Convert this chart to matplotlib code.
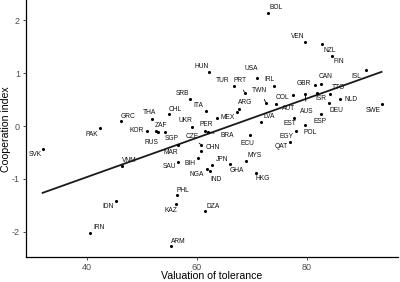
import numpy as np
import matplotlib
matplotlib.use("Agg")
import matplotlib.pyplot as plt

plt.rcParams['font.family'] = ['Liberation Sans', 'DejaVu Sans']
plt.rcParams['axes.unicode_minus'] = False

countries = ["SVK", "PAK", "GRC", "THA", "CHL", "SRB", "ITA", "HUN", "KOR", "UKR",
             "ZAF", "RUS", "SGP", "MEX", "PER", "BRA", "CZE", "CHN", "MAR", "SAU",
             "BIH", "NGA", "IND", "JPN", "GHA", "MYS", "HKG", "ECU", "EGY", "QAT",
             "POL", "ESP", "EST", "LVA", "AUT", "AUS", "ISR", "TTO", "DEU", "NLD",
             "SWE", "ISL", "CAN", "GBR", "FIN", "NZL", "VEN", "BOL", "IRL", "USA",
             "TUR", "PRT", "TWN", "ARG", "", "COL", "VNM", "IDN", "IRN", "PHL",
             "KAZ", "DZA", "ARM"]
tolerance = [31.9, 42.4, 46.1, 51.9, 54.9, 58.7, 61.7, 62.2, 50.9, 59.1,
             52.5, 52.9, 54.2, 63.7, 61.5, 62.0, 60.8, 60.8, 56.6, 56.5,
             60.2, 61.9, 62.4, 62.7, 66.1, 69.0, 70.7, 69.6, 78.1, 76.9,
             79.7, 82.5, 77.7, 71.6, 77.4, 79.7, 81.9, 84.2, 84.1, 86.0,
             93.6, 90.7, 82.6, 81.5, 84.5, 82.7, 79.7, 73.0, 74.1, 70.9,
             66.7, 68.7, 72.6, 67.7, 67.2, 74.4, 46.4, 45.2, 40.6, 56.3,
             56.2, 61.4, 55.2]
cooperation = [-0.43, -0.04, 0.09, 0.13, 0.22, 0.52, 0.29, 1.02, -0.09, -0.02,
               -0.09, -0.12, -0.11, 0.16, -0.09, -0.11, -0.36, -0.47, -0.36, -0.67,
               -0.61, -0.82, -0.84, -0.74, -0.71, -0.66, -0.89, -0.17, -0.09, -0.30,
               0.02, 0.22, 0.16, 0.07, 0.59, 0.60, 0.62, 0.60, 0.44, 0.51,
               0.41, 1.05, 0.79, 0.78, 1.32, 1.55, 1.59, 2.14, 0.76, 0.90,
               0.76, 0.62, 0.43, 0.33, 0.26, 0.42, -0.75, -1.42, -2.02, -1.30,
               -1.48, -1.61, -2.27]

# label offsets in pixels (dx right, dy down), and whether a segment is drawn
label_offsets = {
    "SVK": (-7, 6), "PAK": (-8, 6.3), "GRC": (7.3, -5), "THA": (-2.7, -6.6),
    "CHL": (6.7, -5.3), "SRB": (-7.7, -5.4), "ITA": (-7.7, -5.7), "HUN": (-7.6, -6),
    "KOR": (-10.6, 0), "UKR": (-6.3, -7), "ZAF": (5.7, -5.7), "RUS": (-6.6, 10),
    "SGP": (6.7, 6.6), "MEX": (10.4, 0), "PER": (0.7, -6), "BRA": (19, 4),
    "CZE": (-9, -8.3), "CHN": (11, -3), "MAR": (-7.3, 7.3), "SAU": (-8.4, 5),
    "BIH": (-8.3, 5), "NGA": (-10.6, 5), "IND": (6, 9.3), "JPN": (10.6, -6),
    "GHA": (6.6, 6.7), "MYS": (8.3, -5.7), "HKG": (7.3, 5.7), "ECU": (-2.7, 8.3),
    "EGY": (-10, 6), "QAT": (-8.3, 5), "POL": (5, 7.3), "ESP": (-0.7, 7.4),
    "EST": (-4.3, 5.7), "LVA": (9, -5.6), "AUT": (-3.7, 14), "AUS": (1.7, 16.7),
    "ISR": (3.7, 5.7), "TTO": (8.3, -6.6), "DEU": (7.4, 7.3), "NLD": (11.7, 0),
    "SWE": (-8.4, 5.7), "ISL": (-9, 6), "CAN": (4, -7.6), "GBR": (-11, -1.7),
    "FIN": (7.6, 5.7), "NZL": (8.3, 6), "VEN": (-7.7, -5.7), "BOL": (7.7, -5.4),
    "IRL": (-4.7, -6.7), "USA": (-6, -10), "TUR": (-11, -5), "PRT": (-5, -12.7),
    "TWN": (-6.7, -13.3), "ARG": (6.4, -6.3), "COL": (6, -6), "VNM": (7.3, -5),
    "IDN": (-7.7, 5.7), "IRN": (8.3, -5), "PHL": (6.6, -4.7), "KAZ": (-5.3, 6.4),
    "DZA": (8.3, -5), "ARM": (8, -5),
}
segments = {"RUS", "BRA", "CZE", "IND", "AUS", "PRT", "TWN"}

x = np.array(tolerance)
y = np.array(cooperation)

fig = plt.figure(figsize=(4.0, 2.82), dpi=100)
ax = fig.add_axes([0.064, 0.0876, 0.931, 0.912])

slope, intercept = np.polyfit(x, y, 1)
xs = np.array([x.min(), x.max()])
ax.plot(xs, intercept + slope * xs, color='#1a1a1a', lw=1.3, zorder=2)

ax.scatter(x, y, s=5, color='black', zorder=3, linewidths=0)

for c, xi, yi in zip(countries, x, y):
    if not c:
        continue
    dx, dy = label_offsets[c]
    if c in segments:
        ax.annotate(c, (xi, yi), xytext=(dx, -dy), textcoords='offset pixels',
                    ha='center', va='center', fontsize=4.8, color='#111111',
                    arrowprops=dict(arrowstyle='-', lw=0.6, color='black',
                                    shrinkA=2.5, shrinkB=1))
    else:
        ax.annotate(c, (xi, yi), xytext=(dx, -dy), textcoords='offset pixels',
                    ha='center', va='center', fontsize=4.8, color='#111111')

ax.set_xlim(28.8, 96.6)
ax.set_ylim(-2.48, 2.38)
ax.set_xticks([40, 60, 80])
ax.set_yticks([-2, -1, 0, 1, 2])
ax.set_yticklabels(["-2", "-1", "0", "1", "2"])
ax.tick_params(axis='both', labelsize=6.5, labelcolor='#4d4d4d', length=2,
               width=0.6, color='#333333', pad=2)
for s in ['top', 'right']:
    ax.spines[s].set_visible(False)
for s in ['left', 'bottom']:
    ax.spines[s].set_color('black')
    ax.spines[s].set_linewidth(0.9)

ax.set_xlabel("Valuation of tolerance", fontsize=7.6, va='center')
ax.set_ylabel("Cooperation index", fontsize=7.6, va='center')
ax.xaxis.set_label_coords(0.5, -0.072)
ax.yaxis.set_label_coords(-0.052, 0.5)

fig.savefig("out.png", dpi=100)
